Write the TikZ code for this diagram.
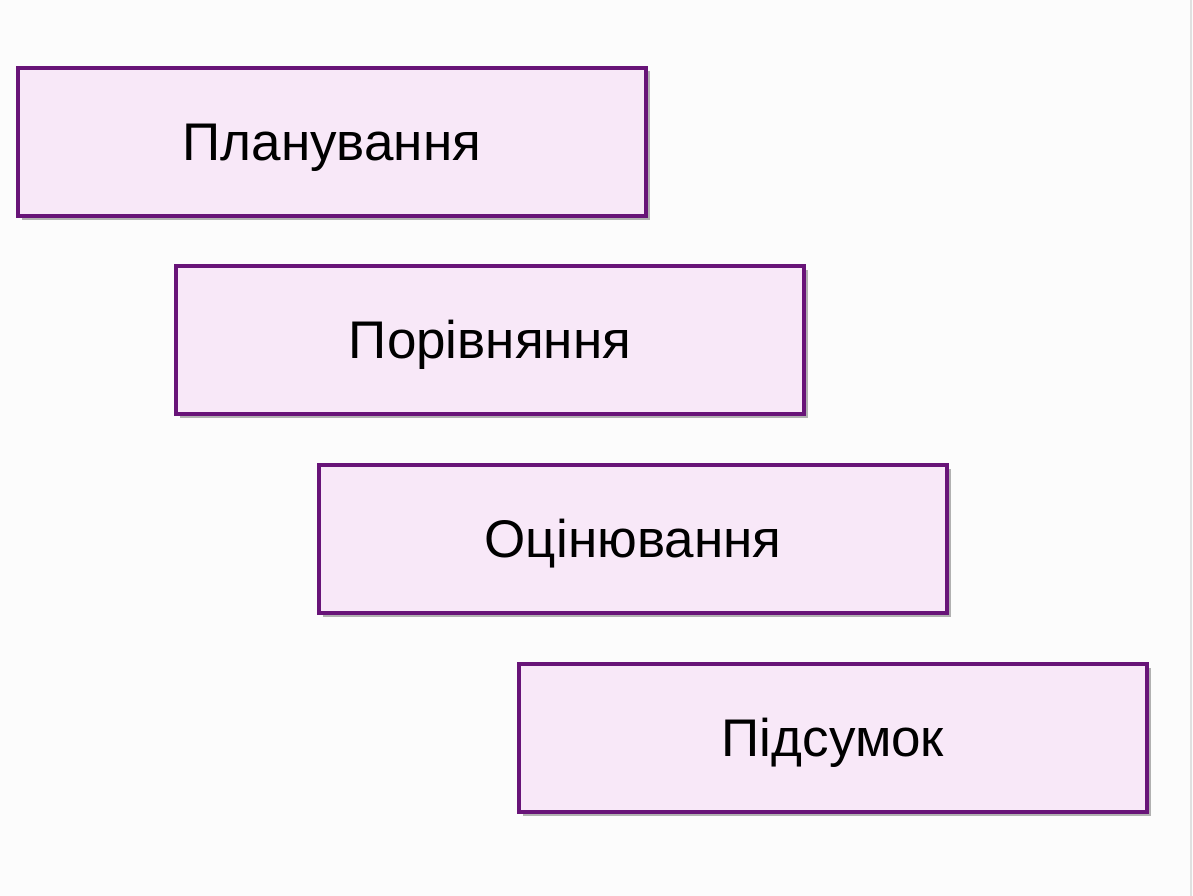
\documentclass[tikz,border=0pt]{standalone}
\usepackage{fontspec}
\setmainfont{Liberation Sans}
\usetikzlibrary{shadows}
\definecolor{boxfill}{HTML}{F8E8F8}
\definecolor{boxline}{HTML}{681478}
\definecolor{bg}{HTML}{FCFCFC}
\begin{document}
\begin{tikzpicture}[x=1pt,y=-1pt,
  stagebox/.style={draw=boxline, line width=3.2pt, fill=boxfill,
    minimum width=628pt, minimum height=148pt, inner sep=0pt,
    text height=37pt, text depth=0pt,
    font=\fontsize{53}{60}\selectfont, text=black,
    drop shadow={shadow xshift=3.5pt, shadow yshift=-3.5pt, opacity=0.6, fill=black!50}}]
\useasboundingbox (0,0) rectangle (1193,896);
\fill[bg] (0,0) rectangle (1193,896);
\draw[black!12, line width=1.5pt] (1191,0) -- (1191,896);
\node[stagebox] (plan) at (332,142) {Планування};
\node[stagebox] (comp) at (490,340) {Порівняння};
\node[stagebox] (eval) at (633,539) {Оцінювання};
\node[stagebox] (summ) at (833,738) {Підсумок};
\end{tikzpicture}
\end{document}
